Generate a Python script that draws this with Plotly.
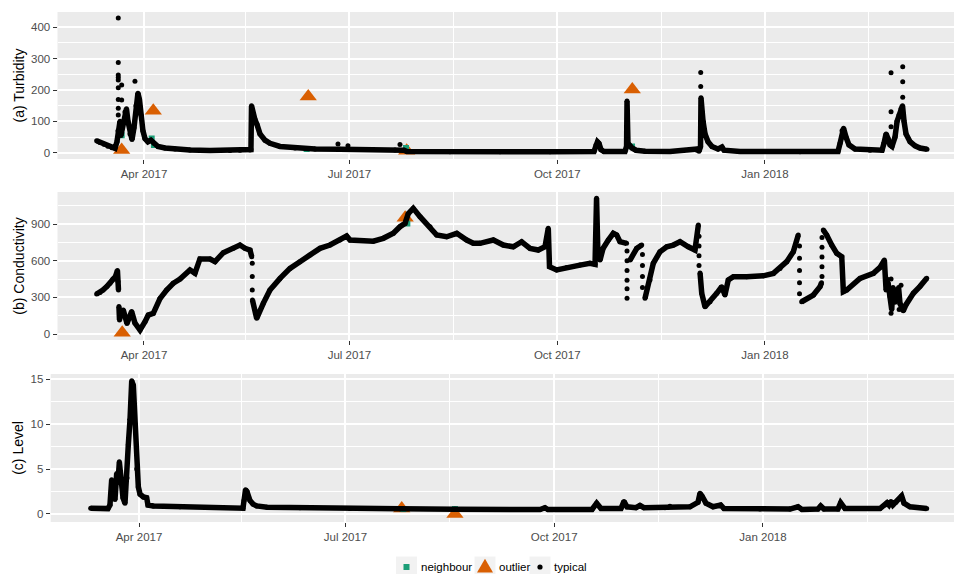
import plotly.graph_objects as go

# ---------------- data ----------------
TURB_T = ["2017-03-11 01:00","2017-03-12 12:00","2017-03-14 07:00","2017-03-16 01:00","2017-03-17 20:00","2017-03-19 04:00","2017-03-20 01:00","2017-03-20 12:00","2017-03-21 09:00","2017-03-21 19:00",
          "2017-03-22 17:00","2017-03-23 14:00","2017-03-24 06:00","2017-03-24 22:00","2017-03-25 19:00","2017-03-26 17:00","2017-03-27 14:00","2017-03-28 11:00","2017-03-29 08:00","2017-03-30 00:00",
          "2017-03-30 16:00","2017-03-31 13:00","2017-04-01 11:00","2017-04-02 18:00","2017-04-04 02:00","2017-04-05 10:00","2017-04-07 05:00","2017-04-10 07:00","2017-04-14 18:00","2017-04-21 09:00",
          "2017-04-30 06:00","2017-05-09 02:00","2017-05-13 12:00","2017-05-17 23:00","2017-05-18 09:00","2017-05-18 15:00","2017-05-19 06:00","2017-05-20 04:00","2017-05-21 01:00","2017-05-22 09:00",
          "2017-05-24 14:00","2017-05-26 19:00","2017-05-31 06:00","2017-06-06 21:00","2017-06-15 18:00","2017-06-26 19:00","2017-07-10 02:00","2017-07-21 04:00","2017-07-25 04:00","2017-07-26 11:00",
          "2017-08-14 12:00","2017-09-05 16:00","2017-09-27 19:00","2017-10-17 07:00","2017-10-18 04:00","2017-10-18 20:00","2017-10-19 12:00","2017-10-20 09:00","2017-10-21 17:00","2017-10-31 00:00",
          "2017-10-31 17:00","2017-10-31 22:00","2017-11-01 08:00","2017-11-02 06:00","2017-11-03 03:00","2017-11-04 21:00","2017-11-08 21:00","2017-11-19 23:00","2017-12-01 22:00","2017-12-02 08:00",
          "2017-12-02 19:00","2017-12-03 11:00","2017-12-03 16:00","2017-12-04 03:00","2017-12-04 14:00","2017-12-05 11:00","2017-12-06 19:00","2017-12-08 13:00","2017-12-11 05:00","2017-12-12 23:00",
          "2017-12-13 21:00","2017-12-20 23:00","2018-01-16 12:00","2018-02-02 08:00","2018-02-03 06:00","2018-02-04 03:00","2018-02-04 19:00","2018-02-05 21:00","2018-02-07 05:00","2018-02-09 21:00",
          "2018-02-16 12:00","2018-02-21 20:00","2018-02-22 17:00","2018-02-23 15:00","2018-02-24 12:00","2018-02-25 09:00","2018-02-26 06:00","2018-02-27 14:00","2018-02-28 12:00","2018-03-01 09:00",
          "2018-03-02 06:00","2018-03-02 22:00","2018-03-03 14:00","2018-03-04 11:00","2018-03-06 06:00","2018-03-08 11:00","2018-03-10 16:00","2018-03-13 18:00"]
TURB_V = [38,33,27,21,16,14,35,70,100,55,
          95,130,140,100,60,42,80,150,190,170,
          120,70,45,35,40,30,20,15,12,9,
          7,7,8,9,10,150,120,105,90,60,
          40,30,20,15,12,11,10,9,8,4,
          3,3,3,4,25,35,30,10,4,4,
          20,165,30,22,15,8,5,4,8,12,
          5,20,175,130,100,60,35,20,12,18,
          8,4,3,4,30,70,78,50,25,12,
          8,8,30,60,45,25,20,50,100,120,
          140,150,100,60,35,22,15,11]
TURB_DOT_T = ["2017-03-20 15:00"] * 9 + ["2017-03-22 03:00", "2017-03-22 03:00", "2017-03-28 00:00",
              "2017-06-25 22:00", "2017-06-30 08:00", "2017-07-23 09:00",
              "2017-12-03 13:00", "2017-12-03 13:00",
              "2018-02-25 20:00", "2018-02-25 20:00", "2018-02-25 20:00",
              "2018-03-03 00:00", "2018-03-03 00:00", "2018-03-03 00:00"]
TURB_DOT_V = [430, 288, 248, 240, 232, 207, 170, 142, 120, 216, 168, 228,
              28, 22, 26, 256, 211, 255, 131, 83, 274, 226, 177]
TURB_OUT_T = ["2017-03-22 03:00", "2017-04-05 03:00", "2017-06-12 18:00", "2017-07-26 08:00", "2017-11-03 06:00"]
TURB_OUT_V = [9, 134, 179, 6, 202]
TURB_NB_T = ["2017-03-22 03:00", "2017-04-04 10:00", "2017-04-05 10:00", "2017-06-12 01:00", "2017-07-26 01:00", "2017-11-03 03:00"]
TURB_NB_V = [56, 45, 25, 12, 15, 20]

COND_T = ["2017-03-11 01:00","2017-03-12 12:00","2017-03-13 20:00","2017-03-15 15:00","2017-03-16 23:00","2017-03-18 06:00","2017-03-19 09:00","2017-03-20 06:00","2017-03-20 12:00","2017-03-20 17:00", None,
          "2017-03-20 22:00","2017-03-21 04:00","2017-03-21 19:00","2017-03-22 20:00","2017-03-24 11:00","2017-03-26 13:00","2017-03-28 00:00","2017-03-30 06:00","2017-04-01 11:00","2017-04-02 22:00",
          "2017-04-05 03:00","2017-04-08 02:00","2017-04-11 01:00","2017-04-13 23:00","2017-04-16 23:00","2017-04-21 09:00","2017-04-23 14:00","2017-04-25 19:00","2017-04-30 06:00","2017-05-02 11:00",
          "2017-05-06 03:00","2017-05-10 13:00","2017-05-13 12:00","2017-05-15 18:00","2017-05-17 23:00","2017-05-18 17:00", None,
          "2017-05-19 01:00","2017-05-20 22:00","2017-05-23 20:00","2017-05-26 19:00","2017-05-31 06:00","2017-06-04 16:00","2017-06-09 02:00","2017-06-13 12:00","2017-06-17 23:00","2017-06-22 09:00",
          "2017-06-26 19:00","2017-06-29 18:00","2017-07-01 06:00","2017-07-05 16:00","2017-07-11 13:00","2017-07-15 23:00","2017-07-20 10:00","2017-07-23 09:00","2017-07-25 14:00","2017-07-27 01:00",
          "2017-07-29 06:00","2017-08-01 06:00","2017-08-05 16:00","2017-08-08 15:00","2017-08-13 01:00","2017-08-17 12:00","2017-08-21 22:00","2017-08-24 20:00","2017-08-27 19:00","2017-09-02 17:00",
          "2017-09-07 03:00","2017-09-11 13:00","2017-09-15 06:00","2017-09-18 23:00","2017-09-22 15:00","2017-09-25 14:00","2017-09-27 01:00","2017-09-27 14:00","2017-09-30 18:00","2017-10-05 05:00",
          "2017-10-11 02:00","2017-10-15 12:00","2017-10-17 18:00","2017-10-18 10:00","2017-10-19 01:00","2017-10-19 23:00","2017-10-21 07:00","2017-10-23 15:00","2017-10-25 20:00","2017-10-27 08:00",
          "2017-10-28 19:00","2017-10-31 17:00", None,
          "2017-11-02 06:00","2017-11-05 05:00","2017-11-07 10:00", None,
          "2017-11-08 21:00","2017-11-11 02:00","2017-11-12 13:00","2017-11-15 12:00","2017-11-18 12:00","2017-11-21 10:00","2017-11-24 09:00","2017-11-28 01:00","2017-12-01 00:00","2017-12-02 12:00", None,
          "2017-12-03 06:00","2017-12-04 00:00","2017-12-05 11:00","2017-12-07 16:00","2017-12-10 15:00","2017-12-12 20:00","2017-12-14 07:00","2017-12-15 18:00","2017-12-18 00:00","2017-12-23 22:00",
          "2017-12-31 06:00","2018-01-04 17:00","2018-01-07 16:00","2018-01-10 15:00","2018-01-13 13:00","2018-01-15 18:00", None,
          "2018-01-17 06:00","2018-01-22 10:00","2018-01-25 09:00","2018-01-26 01:00", None,
          "2018-01-26 20:00","2018-01-28 08:00","2018-01-30 13:00","2018-02-01 19:00","2018-02-04 00:00","2018-02-04 17:00","2018-02-06 05:00","2018-02-12 02:00","2018-02-18 00:00","2018-02-20 23:00",
          "2018-02-22 21:00","2018-02-23 15:00","2018-02-24 12:00","2018-02-25 09:00","2018-02-26 03:00","2018-02-26 17:00","2018-02-27 14:00","2018-02-28 08:00","2018-03-01 04:00","2018-03-01 19:00",
          "2018-03-03 06:00","2018-03-04 11:00","2018-03-07 17:00","2018-03-10 16:00","2018-03-13 15:00"]
COND_V = [327,340,360,390,415,450,470,520,430,360, None,
          225,115,175,196,87,185,90,33,100,155,
          169,290,360,415,450,524,497,614,614,592,
          665,701,728,701,687,633, None,
          278,128,251,360,455,537,592,646,701,728,
          769,802,769,766,760,783,824,878,905,985,
          1028,960,878,810,796,824,769,742,742,769,
          728,714,755,701,687,714,865,551,524,545,
          564,578,570,1110,640,605,700,769,824,810,
          755,742, None,
          605,701,728, None,
          292,442,578,673,714,728,755,714,687,892, None,
          500,333,223,264,333,387,319,442,469,469,
          476,496,537,592,673,810, None,
          264,319,387,420, None,
          851,810,728,660,633,346,360,455,496,545,
          605,360,420,305,200,380,260,300,380,250,
          190,240,333,390,456]
COND_DOT_T = ["2017-05-18 23:00"] * 3 + ["2017-10-31 22:00"] * 6 + ["2017-11-07 18:00"] * 4 + \
             ["2017-12-02 19:00"] * 4 + ["2018-01-16 07:00"] * 5 + ["2018-01-26 06:00"] * 5 + \
             ["2018-02-25 20:00", "2018-02-25 20:00", "2018-03-02 06:00", "2018-03-01 10:00", "2018-02-24 00:00"]
COND_DOT_V = [579, 470, 360,
              680, 600, 520, 440, 370, 292,
              650, 560, 470, 380,
              800, 720, 640, 560,
              720, 620, 520, 420, 330,
              470, 550, 630, 710, 790,
              170, 450, 400, 200, 450]
COND_OUT_T = ["2017-03-22 09:00", "2017-07-25 16:00"]
COND_OUT_V = [11, 952]
COND_NB_T = ["2017-03-21 16:00", "2017-07-26 15:00"]
COND_NB_V = [175, 905]

LEVEL_T = ["2017-03-10 17:00","2017-03-14 19:00","2017-03-18 08:00","2017-03-19 05:00","2017-03-19 23:00","2017-03-20 13:00","2017-03-21 10:00","2017-03-22 04:00","2017-03-22 18:00","2017-03-23 08:00",
           "2017-03-24 02:00","2017-03-24 23:00","2017-03-25 20:00","2017-03-26 17:00","2017-03-27 07:00","2017-03-28 01:00","2017-03-28 19:00","2017-03-29 12:00","2017-03-30 06:00","2017-03-31 00:00",
           "2017-03-31 17:00","2017-04-01 11:00","2017-04-02 22:00","2017-04-04 09:00","2017-04-04 23:00","2017-04-07 07:00","2017-04-19 02:00","2017-05-02 07:00","2017-05-16 20:00","2017-05-17 07:00",
           "2017-05-17 23:00","2017-05-18 14:00","2017-05-19 22:00","2017-05-21 06:00","2017-05-22 21:00","2017-05-27 10:00","2017-06-10 23:00","2017-07-03 00:00","2017-07-25 01:00","2017-08-18 06:00",
           "2017-09-07 02:00","2017-09-24 18:00","2017-09-26 22:00","2017-09-28 06:00","2017-10-17 16:00","2017-10-19 17:00","2017-10-21 15:00","2017-10-30 10:00","2017-10-31 18:00","2017-11-02 02:00",
           "2017-11-06 01:00","2017-11-07 19:00","2017-11-09 13:00","2017-11-18 20:00","2017-11-21 00:00","2017-11-29 20:00","2017-12-03 09:00","2017-12-04 06:00","2017-12-05 03:00","2017-12-06 21:00",
           "2017-12-10 00:00","2017-12-13 09:00","2017-12-14 20:00","2017-12-30 17:00","2018-01-12 22:00","2018-01-16 11:00","2018-01-18 05:00","2018-01-25 06:00","2018-01-26 11:00","2018-01-27 21:00",
           "2018-02-03 01:00","2018-02-04 06:00","2018-02-06 04:00","2018-02-21 14:00","2018-02-23 19:00","2018-02-24 16:00","2018-02-25 13:00","2018-02-26 10:00","2018-02-27 07:00","2018-02-28 15:00",
           "2018-03-03 03:00","2018-03-04 04:00","2018-03-06 19:00","2018-03-14 04:00"]
LEVEL_V = [0.65,0.6,0.6,1.0,3.8,2.0,1.6,4.5,3.5,5.8,
           3.5,1.8,1.2,4.0,7.7,10.5,14.8,14.3,10.0,5.0,
           3.0,2.2,1.9,1.8,1.0,0.9,0.8,0.72,0.65,1.5,
           2.7,2.5,1.5,1.1,0.9,0.75,0.68,0.62,0.58,0.52,
           0.5,0.5,0.7,0.5,0.5,1.2,0.6,0.6,1.4,0.8,
           0.7,0.95,0.7,0.7,0.85,0.8,1.3,2.3,2.0,1.2,
           0.8,1.0,0.6,0.55,0.55,0.8,0.5,0.55,0.9,0.55,
           0.55,1.25,0.6,0.6,1.0,1.25,1.0,1.4,1.0,1.3,
           2.0,1.2,0.8,0.6]
LEVEL_DOT_T = ["2017-03-19 23:00", "2017-03-19 23:00", "2017-03-22 04:00", "2017-03-23 08:00", "2017-03-23 08:00"]
LEVEL_DOT_V = [3.0, 2.4, 3.8, 5.0, 4.3]
LEVEL_OUT_T = ["2017-07-25 19:00", "2017-08-18 06:00"]
LEVEL_OUT_V = [0.6, 0.0]
LEVEL_NB_T = ["2017-07-26 12:00", "2017-08-18 06:00"]
LEVEL_NB_V = [0.55, 0.55]

TITLES = ["(a) Turbidity", "(b) Conductivity", "(c) Level"]
LEGEND_LABELS = ["neighbour", "outlier", "typical"]

# ---------------- styling ----------------
BLACK, ORANGE, GREEN = "#000000", "#D95F02", "#1B9E77"
FONT = "Liberation Sans, Arial, Helvetica, sans-serif"
W, H = 954, 574

fig = go.Figure()


def add_panel(n, lt, lv, dt, dv, ot, ov, nt, nv):
    xa = "x" if n == 1 else "x%d" % n
    ya = "y" if n == 1 else "y%d" % n
    fig.add_trace(go.Scatter(x=ot, y=ov, mode="markers", name="outlier", showlegend=False,
                             marker=dict(symbol="triangle-up", size=15, color=ORANGE),
                             xaxis=xa, yaxis=ya))
    fig.add_trace(go.Scatter(x=nt, y=nv, mode="markers", name="neighbour", showlegend=False,
                             marker=dict(symbol="square", size=6, color=GREEN),
                             xaxis=xa, yaxis=ya))
    fig.add_trace(go.Scatter(x=lt, y=lv, mode="lines+markers", name="typical", showlegend=False,
                             connectgaps=False, line=dict(color=BLACK, width=5.5),
                             marker=dict(size=5, color=BLACK),
                             xaxis=xa, yaxis=ya))
    fig.add_trace(go.Scatter(x=dt, y=dv, mode="markers", name="typical", showlegend=False,
                             marker=dict(size=5, color=BLACK),
                             xaxis=xa, yaxis=ya))


add_panel(1, TURB_T, TURB_V, TURB_DOT_T, TURB_DOT_V, TURB_OUT_T, TURB_OUT_V, TURB_NB_T, TURB_NB_V)
add_panel(2, COND_T, COND_V, COND_DOT_T, COND_DOT_V, COND_OUT_T, COND_OUT_V, COND_NB_T, COND_NB_V)
add_panel(3, LEVEL_T, LEVEL_V, LEVEL_DOT_T, LEVEL_DOT_V, LEVEL_OUT_T, LEVEL_OUT_V, LEVEL_NB_T, LEVEL_NB_V)


def xaxis(left_px, rng, anchor):
    return dict(type="date", domain=[left_px / W, 1.0], anchor=anchor, range=rng,
                dtick="M3", tick0="2017-01-01", tickformat="%b %Y",
                ticks="outside", ticklen=4, tickwidth=1, tickcolor="#333333",
                tickfont=dict(size=11.5, color="#4D4D4D"),
                showgrid=True, gridcolor="white", gridwidth=1.6,
                minor=dict(dtick="M3", tick0="2017-02-16", showgrid=True,
                           gridcolor="white", gridwidth=0.8, ticks=""),
                zeroline=False, showline=False, automargin=False, fixedrange=True)


def yaxis(top_px, bot_px, rng, dtick, anchor, title, standoff):
    return dict(domain=[1 - bot_px / H, 1 - top_px / H], anchor=anchor, range=rng,
                dtick=dtick, tick0=0,
                ticks="outside", ticklen=4, tickwidth=1, tickcolor="#333333",
                tickfont=dict(size=11.5, color="#4D4D4D"),
                showgrid=True, gridcolor="white", gridwidth=1.6,
                minor=dict(dtick=dtick / 2, tick0=0, showgrid=True,
                           gridcolor="white", gridwidth=0.8, ticks=""),
                zeroline=False, showline=False, automargin=False, fixedrange=True,
                title=dict(text=title, font=dict(size=14, color="black"), standoff=standoff))


# ---------- ggplot-style legend at the bottom (keys drawn as paper shapes) ----------
def px(x):
    return x / W


def py(y):
    return 1 - y / H


LEG_Y = 567
KEY_BOXES = [(396, 417), (474.5, 495.5), (529.5, 550.5)]
TEXT_X = [418.5, 497, 552]
shapes = []
for (a, b) in KEY_BOXES:
    shapes.append(dict(type="rect", xref="paper", yref="paper", x0=px(a), x1=px(b),
                       y0=py(LEG_Y + 10.5), y1=py(LEG_Y - 10.5),
                       fillcolor="#F2F2F2", line=dict(width=0), layer="above"))
# neighbour key: green square
cx = sum(KEY_BOXES[0]) / 2
shapes.append(dict(type="rect", xref="paper", yref="paper", x0=px(cx - 3), x1=px(cx + 3),
                   y0=py(LEG_Y + 3), y1=py(LEG_Y - 3), fillcolor=GREEN, line=dict(width=0), layer="above"))
# outlier key: orange triangle
cx = sum(KEY_BOXES[1]) / 2
tri = "M %f %f L %f %f L %f %f Z" % (px(cx - 8), py(LEG_Y + 5.5), px(cx + 8), py(LEG_Y + 5.5),
                                      px(cx), py(LEG_Y - 8.3))
shapes.append(dict(type="path", xref="paper", yref="paper", path=tri,
                   fillcolor=ORANGE, line=dict(width=0), layer="above"))
# typical key: black dot
cx = sum(KEY_BOXES[2]) / 2
shapes.append(dict(type="circle", xref="paper", yref="paper", x0=px(cx - 2.6), x1=px(cx + 2.6),
                   y0=py(LEG_Y + 2.6), y1=py(LEG_Y - 2.6), fillcolor=BLACK, line=dict(width=0), layer="above"))

annotations = [dict(text=lab, xref="paper", yref="paper", x=px(tx), y=py(LEG_Y),
                    xanchor="left", yanchor="middle", showarrow=False,
                    font=dict(size=11.5, color="black"))
               for lab, tx in zip(LEGEND_LABELS, TEXT_X)]

fig.update_layout(
    width=W, height=H,
    margin=dict(l=0, r=0, t=0, b=0),
    paper_bgcolor="white", plot_bgcolor="#EBEBEB",
    font=dict(family=FONT, color="black"),
    showlegend=False,
    shapes=shapes,
    annotations=annotations,
    xaxis=xaxis(57.5, ["2017-02-21 17:00", "2018-03-25 17:00"], "y"),
    xaxis2=xaxis(57.5, ["2017-02-21 17:00", "2018-03-25 17:00"], "y2"),
    xaxis3=xaxis(50.7, ["2017-02-21 02:00", "2018-03-26 05:00"], "y3"),
    yaxis=yaxis(12, 159, [-20, 448.8], 100, "x", TITLES[0], 3),
    yaxis2=yaxis(192, 340, [-49, 1162], 300, "x2", TITLES[1], 3),
    yaxis3=yaxis(374, 522, [-0.89, 15.56], 5, "x3", TITLES[2], 3),
)

fig.write_html("out.html", config={"displayModeBar": False},
               post_script="document.body.style.margin='0';document.body.style.overflow='hidden';")
